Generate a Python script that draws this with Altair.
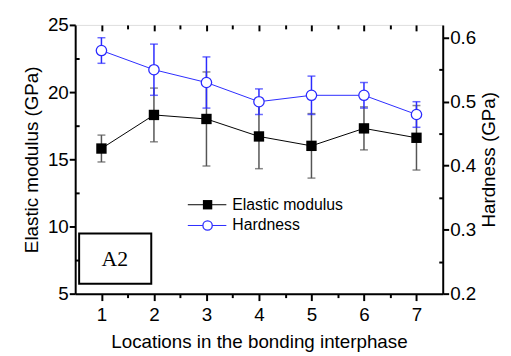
import altair as alt
import pandas as pd

locations = [1, 2, 3, 4, 5, 6, 7]
minor_x = [1.5, 2.5, 3.5, 4.5, 5.5, 6.5]
modulus = [15.8, 18.3, 18.0, 16.7, 16.0, 17.3, 16.6]
modulus_err = [1.0, 2.0, 3.5, 2.4, 2.4, 1.6, 2.4]
hardness = [0.58, 0.55, 0.53, 0.50, 0.51, 0.51, 0.48]
hardness_err = [0.02, 0.04, 0.04, 0.02, 0.03, 0.02, 0.02]
mod_ticks = [5, 10, 15, 20, 25]
mod_minor = [7.5, 12.5, 17.5, 22.5]
hard_ticks = [0.2, 0.3, 0.4, 0.5, 0.6]
hard_minor = [0.25, 0.35, 0.45, 0.55]

df = pd.DataFrame({
    "loc": locations,
    "mod": modulus,
    "mod_lo": [m - e for m, e in zip(modulus, modulus_err)],
    "mod_hi": [m + e for m, e in zip(modulus, modulus_err)],
    "hard": hardness,
    "hard_lo": [m - e for m, e in zip(hardness, hardness_err)],
    "hard_hi": [m + e for m, e in zip(hardness, hardness_err)],
})

FONT = "Liberation Sans"
W, H = 372, 272
BLUE = "#2b2bff"

xscale = alt.Scale(domain=[0.5, 7.5], nice=False, zero=False)
xaxis = alt.Axis(title="Locations in the bonding interphase", orient="bottom", values=locations,
                 format="d", tickSize=7, labelFontSize=19, titleFontSize=19,
                 labelFont=FONT, titleFont=FONT, labelColor="black", titleColor="black",
                 titleFontWeight="normal", domainColor="black", tickColor="black",
                 domainWidth=2, tickWidth=2, grid=False, labelPadding=5, titlePadding=8)
ly = alt.Scale(domain=[5, 25], nice=False, zero=False)
ry = alt.Scale(domain=[0.2, 0.62], nice=False, zero=False)
lyaxis = alt.Axis(title="Elastic modulus (GPa)", orient="left", values=mod_ticks, tickSize=6,
                  labelFontSize=19, titleFontSize=19, labelFont=FONT, titleFont=FONT,
                  labelColor="black", titleColor="black", titleFontWeight="normal",
                  domainColor="black", tickColor="black", domainWidth=2, tickWidth=2,
                  grid=False, labelPadding=1, titlePadding=6)
ryaxis = alt.Axis(title="Hardness (GPa)", values=hard_ticks, format=".1f",
                  orient="right", tickSize=6, titleAngle=270, titleX=46, titleY=H / 2,
                  titleAlign="center", titleBaseline="middle",
                  labelFontSize=19, titleFontSize=19, labelFont=FONT, titleFont=FONT,
                  labelColor="black", titleColor="black", titleFontWeight="normal",
                  domainColor="black", tickColor="black", domainWidth=2, tickWidth=2,
                  grid=False, labelPadding=1)

base = alt.Chart(df)
x = alt.X("loc:Q", scale=xscale, axis=xaxis)
xn = alt.X("loc:Q", scale=xscale, axis=None)

mod_err = base.mark_errorbar(ticks=alt.MarkConfig(size=8, color="#555555"), color="#555555", thickness=1.5).encode(
    x=x, y=alt.Y("mod_lo:Q", scale=ly, axis=lyaxis), y2="mod_hi:Q")
mod_line = base.mark_line(color="black", strokeWidth=1).encode(x=x, y=alt.Y("mod:Q", scale=ly, axis=lyaxis))
mod_pts = base.mark_point(shape="square", filled=True, color="black", size=110, opacity=1).encode(
    x=x, y=alt.Y("mod:Q", scale=ly, axis=lyaxis))
mod_layer = alt.layer(mod_err, mod_line, mod_pts)

hard_err = base.mark_errorbar(ticks=alt.MarkConfig(size=8, color=BLUE), color=BLUE, thickness=1.5).encode(
    x=xn, y=alt.Y("hard_lo:Q", scale=ry, axis=ryaxis), y2="hard_hi:Q")
hard_line = base.mark_line(color=BLUE, strokeWidth=1).encode(x=xn, y=alt.Y("hard:Q", scale=ry, axis=ryaxis))
hard_pts = base.mark_point(shape="circle", filled=True, fill="white", stroke=BLUE, strokeWidth=1.3,
                           size=110, opacity=1).encode(x=xn, y=alt.Y("hard:Q", scale=ry, axis=ryaxis))
hard_layer = alt.layer(hard_err, hard_line, hard_pts)


def tick_axis(orient, offset, values, size):
    return alt.Axis(orient=orient, offset=offset, values=values, labels=False, title=None,
                    tickSize=size, domain=False, tickColor="black", tickWidth=2, grid=False)


# x tick decorations (top inward major/minor, bottom outward minor)
top_major = base.mark_point(opacity=0).encode(
    x=alt.X("loc:Q", scale=xscale, axis=tick_axis("top", -6, locations, 6)))
top_minor = base.mark_point(opacity=0).encode(
    x=alt.X("loc:Q", scale=xscale, axis=tick_axis("top", -4, minor_x, 4)))
bottom_minor = base.mark_point(opacity=0).encode(
    x=alt.X("loc:Q", scale=xscale, axis=tick_axis("top", -(H + 4), minor_x, 4)))
# y minor ticks, inward
left_minor = base.mark_point(opacity=0).encode(
    x=xn, y=alt.Y("mod:Q", scale=ly, axis=tick_axis("right", -W, mod_minor, 4)))
right_minor = base.mark_point(opacity=0).encode(
    x=xn, y=alt.Y("hard:Q", scale=ry, axis=tick_axis("left", -W, hard_minor, 4)))

leg_names = ["Elastic modulus", "Hardness"]
one = pd.DataFrame({"n": [0]})
legend = alt.layer(
    alt.Chart(one).mark_rule(color="black", strokeWidth=1).encode(
        x=alt.value(114), x2=alt.value(153), y=alt.value(182)),
    alt.Chart(one).mark_point(shape="square", filled=True, color="black", size=90, opacity=1).encode(
        x=alt.value(134), y=alt.value(182)),
    alt.Chart(one).mark_text(text=leg_names[0], align="left", baseline="middle",
                             font=FONT, fontSize=16, color="black").encode(
        x=alt.value(159), y=alt.value(182)),
    alt.Chart(one).mark_rule(color=BLUE, strokeWidth=1).encode(
        x=alt.value(114), x2=alt.value(153), y=alt.value(203)),
    alt.Chart(one).mark_point(shape="circle", filled=True, fill="white", stroke=BLUE,
                              size=90, opacity=1, strokeWidth=1.3).encode(
        x=alt.value(134), y=alt.value(203)),
    alt.Chart(one).mark_text(text=leg_names[1], align="left", baseline="middle",
                             font=FONT, fontSize=16, color="black").encode(
        x=alt.value(159), y=alt.value(203)),
    alt.Chart(one).mark_rect(fill="white", stroke="black", strokeWidth=2).encode(
        x=alt.value(4), x2=alt.value(77), y=alt.value(211), y2=alt.value(262)),
    alt.Chart(one).mark_text(text="A2", align="center", baseline="middle",
                             font="Liberation Serif", fontSize=22, color="black").encode(
        x=alt.value(40), y=alt.value(237)),
)

chart = alt.layer(mod_layer, hard_layer, top_major, top_minor, bottom_minor, left_minor, right_minor,
                  legend).resolve_scale(y="independent").resolve_axis(
    x="independent", y="independent").properties(
    width=W, height=H, padding={"left": 14, "top": 6, "right": 5, "bottom": 5}).configure_view(
    stroke="black", strokeWidth=2).configure_axis(titleFontWeight="normal").configure(background="white")

chart.save("out.html", embed_options={"renderer": "svg", "actions": False})
